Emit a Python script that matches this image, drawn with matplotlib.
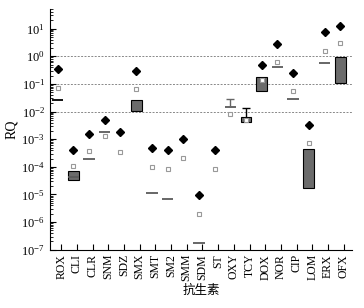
import numpy as np
import matplotlib.pyplot as plt

plt.rcParams['font.family'] = ['Liberation Serif', 'Noto Sans CJK SC']
plt.rcParams['mathtext.fontset'] = 'stix'

nan = np.nan

# antibiotic categories
cats = ['ROX', 'CLI', 'CLR', 'SNM', 'SDZ', 'SMX', 'SMT', 'SM2', 'SMM', 'SDM',
        'ST', 'OXY', 'TCY', 'DOX', 'NOR', 'CIP', 'LOM', 'ERX', 'OFX']

# maximum RQ (black diamonds)
max_rq = [0.34, 3.9e-4, 1.57e-3, 4.8e-3, 1.77e-3, 0.30, 4.9e-4, 3.9e-4, 1.03e-3, 9.7e-6,
          4.1e-4, nan, nan, 0.50, 2.7, 0.24, 3.2e-3, 7.4, 12.9]
# mean RQ (open squares)
mean_rq = [0.073, 1.1e-4, 3.6e-4, 1.3e-3, 3.4e-4, 0.067, 9.5e-5, 8.3e-5, 2.1e-4, 2.0e-6,
           8.3e-5, 8.3e-3, 4.9e-3, 0.14, 0.62, 0.055, 7.4e-4, 1.56, 2.9]
# box range (25th-75th percentile)
box_low = [nan, 3.3e-5, nan, nan, nan, 0.0102, nan, nan, nan, nan,
           nan, nan, 4.1e-3, 0.056, nan, nan, 1.7e-5, nan, 0.105]
box_high = [nan, 7.2e-5, nan, nan, nan, 0.0256, nan, nan, nan, nan,
            nan, nan, 6.3e-3, 0.174, nan, nan, 4.6e-4, nan, 0.92]
# median RQ (short lines)
median_rq = [0.026, 4.2e-5, 1.95e-4, 1.86e-3, nan, nan, 1.14e-5, 6.8e-6, nan, 1.8e-7,
             nan, 0.015, nan, nan, 0.40, 0.028, nan, 0.59, nan]
# upper whisker
whisker_top = [nan, nan, nan, nan, nan, nan, nan, nan, nan, nan,
               nan, 0.028, 0.013, nan, nan, nan, nan, nan, nan]

x = np.arange(len(cats))
box_low = np.array(box_low)
box_high = np.array(box_high)
median_rq = np.array(median_rq)
whisker_top = np.array(whisker_top)

fig = plt.figure(figsize=(3.64, 3.08), dpi=100)
ax = fig.add_axes([0.137, 0.189, 0.830, 0.781])
ax.set_yscale('log')

# reference lines
for ref in [1, 0.1, 0.01]:
    ax.axhline(ref, color='#888888', ls=(0, (2, 1.5)), lw=0.7, zorder=1)

# boxes
has_box = ~np.isnan(box_low)
ax.bar(x[has_box], box_high[has_box] - box_low[has_box], bottom=box_low[has_box],
       width=0.68, color='#6b6b6b', edgecolor='black', lw=0.8, zorder=2)

# median lines
med_colors = ['black' if c == 'ROX' else '#5a5a5a' for c in cats]
has_med = ~np.isnan(median_rq)
ax.hlines(median_rq[has_med], x[has_med] - 0.36, x[has_med] + 0.36,
          colors=np.array(med_colors)[has_med], lw=1.3, zorder=3)

# whiskers
has_wh = ~np.isnan(whisker_top)
base = np.where(np.isnan(box_high), median_rq, box_high)
wh_colors = ['#666666' if c == 'OXY' else 'black' for c in cats]
for i in x[has_wh]:
    ax.vlines(i, base[i], whisker_top[i], colors=wh_colors[i], lw=1.0, zorder=3)
    ax.hlines(whisker_top[i], i - 0.25, i + 0.25, colors=wh_colors[i], lw=1.0, zorder=3)

# mean and max markers
ax.plot(x, mean_rq, 's', ms=3, mfc='white', mec='#999999', mew=0.8, ls='none', zorder=4)
ax.plot(x, max_rq, 'D', ms=4.5, color='black', ls='none', zorder=5)

ax.set_ylim(1e-7, 50)
ax.set_xlim(-0.5, 18.75)
ax.set_yticks([1e-7, 1e-6, 1e-5, 1e-4, 1e-3, 1e-2, 1e-1, 1, 10])
ax.set_xticks(x + 0.22)
ax.set_xticklabels(cats, rotation=90, fontsize=8.5)
ax.tick_params(axis='y', which='major', direction='in', length=4, labelsize=9, width=0.8)
ax.tick_params(axis='y', which='minor', direction='in', length=2, width=0.6)
ax.tick_params(axis='x', direction='in', length=4, width=0.8, pad=3)

for side in ['top', 'right']:
    ax.spines[side].set_visible(False)

ax.set_ylabel('RQ', fontsize=10, labelpad=2)
ax.set_xlabel('抗生素', fontsize=9, family=['Noto Sans CJK SC'], labelpad=2)

fig.savefig('out.png', dpi=100)
